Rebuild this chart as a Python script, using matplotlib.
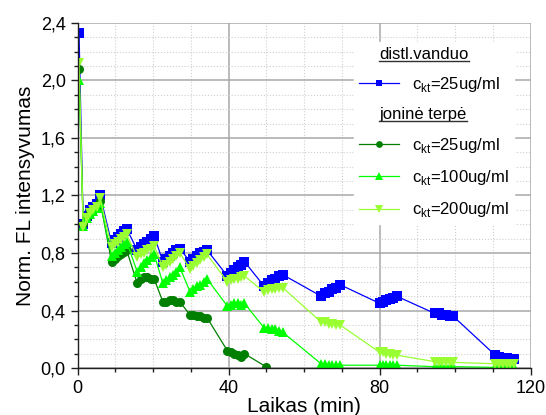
import matplotlib
matplotlib.use("Agg")
import matplotlib.pyplot as plt
from matplotlib.lines import Line2D
from matplotlib.ticker import MultipleLocator, FuncFormatter
from matplotlib.transforms import IdentityTransform

plt.rcParams['font.family'] = ['Liberation Sans', 'DejaVu Sans']
plt.rcParams['mathtext.fontset'] = 'custom'
plt.rcParams['mathtext.rm'] = 'Liberation Sans'

# time points (min): first reading, then measurement groups
laikas = [0.4,
          1.5, 2.4, 3.3, 4.2, 5.1, 6.0,
          9.0, 9.8, 10.6, 11.4, 12.2, 13.0,
          15.8, 16.7, 17.6, 18.5, 19.4, 20.3,
          22.6, 23.5, 24.4, 25.3, 26.2, 27.1,
          29.8, 30.7, 31.6, 32.5, 33.4, 34.3,
          39.7, 40.6, 41.5, 42.4, 43.3, 44.2,
          49.4, 50.4, 51.4, 52.4, 53.4, 54.3,
          64.5, 65.5, 66.5, 67.5, 68.5, 69.5,
          80.0, 80.9, 81.8, 82.7, 83.6, 84.5,
          94.6, 95.6, 96.6, 97.6, 98.6, 99.5,
          110.6, 111.6, 112.6, 113.6, 114.6, 115.5]

# distl. vanduo, c=25 ug/ml
vanduo_25 = [2.33,
             1.00, 1.06, 1.10, 1.12, 1.14, 1.20,
             0.87, 0.89, 0.91, 0.93, 0.95, 0.97,
             0.82, 0.84, 0.86, 0.88, 0.90, 0.92,
             0.74, 0.76, 0.78, 0.80, 0.82, 0.83,
             0.74, 0.76, 0.78, 0.80, 0.81, 0.82,
             0.64, 0.66, 0.68, 0.70, 0.72, 0.74,
             0.57, 0.59, 0.61, 0.62, 0.64, 0.65,
             0.50, 0.52, 0.53, 0.55, 0.56, 0.58,
             0.45, 0.46, 0.47, 0.48, 0.49, 0.50,
             0.38, 0.38, 0.37, 0.37, 0.36, 0.36,
             0.09, 0.08, 0.07, 0.07, 0.06, 0.06]

# jonine terpe, c=25 ug/ml (ends at 50 min)
laikas_j25 = laikas[:37] + [49.9]
jon_25 = [2.08,
          1.00, 1.05, 1.08, 1.10, 1.12, 1.16,
          0.74, 0.76, 0.78, 0.79, 0.81, 0.82,
          0.59, 0.62, 0.63, 0.63, 0.62, 0.62,
          0.46, 0.46, 0.47, 0.47, 0.46, 0.46,
          0.37, 0.37, 0.36, 0.36, 0.35, 0.35,
          0.12, 0.11, 0.10, 0.09, 0.08, 0.10,
          0.01]

# jonine terpe, c=100 ug/ml
jon_100 = [2.00,
           0.99, 1.04, 1.07, 1.09, 1.11, 1.15,
           0.78, 0.80, 0.82, 0.84, 0.86, 0.88,
           0.67, 0.70, 0.73, 0.75, 0.77, 0.79,
           0.59, 0.61, 0.63, 0.65, 0.67, 0.70,
           0.53, 0.55, 0.57, 0.58, 0.60, 0.62,
           0.43, 0.44, 0.45, 0.45, 0.44, 0.45,
           0.28, 0.28, 0.27, 0.27, 0.26, 0.25,
           0.03, 0.03, 0.02, 0.02, 0.02, 0.02,
           0.02, 0.02, 0.02, 0.02, 0.02, 0.02,
           0.01, 0.01, 0.01, 0.01, 0.01, 0.01,
           0.005, 0.005, 0.005, 0.005, 0.005, 0.005]

# jonine terpe, c=200 ug/ml
jon_200 = [2.12,
           0.98, 1.04, 1.08, 1.10, 1.12, 1.18,
           0.84, 0.86, 0.88, 0.90, 0.91, 0.93,
           0.77, 0.79, 0.80, 0.82, 0.83, 0.85,
           0.70, 0.72, 0.74, 0.76, 0.78, 0.80,
           0.69, 0.71, 0.73, 0.75, 0.77, 0.79,
           0.60, 0.61, 0.62, 0.62, 0.63, 0.64,
           0.53, 0.54, 0.55, 0.55, 0.56, 0.56,
           0.32, 0.32, 0.31, 0.31, 0.30, 0.30,
           0.11, 0.11, 0.10, 0.10, 0.09, 0.09,
           0.045, 0.045, 0.04, 0.04, 0.04, 0.04,
           0.03, 0.03, 0.03, 0.03, 0.03, 0.03]

fig = plt.figure(figsize=(5.46, 4.15), dpi=100)
ax = fig.add_axes([0.142, 0.113, 0.83, 0.832])

ms = 6.5
l1, = ax.plot(laikas, vanduo_25, color='#0000FF', marker='s', ms=ms, mew=0, lw=0.9)
l2, = ax.plot(laikas_j25, jon_25, color='#007F00', marker='o', ms=ms, mew=0, lw=0.9)
l3, = ax.plot(laikas, jon_100, color='#00FF00', marker='^', ms=ms + 1, mew=0, lw=0.9)
l4, = ax.plot(laikas, jon_200, color='#99FF33', marker='v', ms=ms + 1, mew=0, lw=0.9)

ax.set_xlim(0, 120)
ax.set_ylim(0, 2.4)
ax.xaxis.set_major_locator(MultipleLocator(40))
ax.xaxis.set_minor_locator(MultipleLocator(10))
ax.yaxis.set_major_locator(MultipleLocator(0.4))
ax.yaxis.set_minor_locator(MultipleLocator(0.1))
ax.yaxis.set_major_formatter(FuncFormatter(lambda v, p: f"{v:.1f}".replace('.', ',')))

ax.grid(True, which='major', color='#A8A8A8', lw=1.1, linestyle='-')
ax.grid(True, which='minor', color='#CFCFCF', lw=0.8, linestyle=':')
ax.set_axisbelow(True)
for s in ['top', 'right']:
    ax.spines[s].set_visible(False)
for s in ['left', 'bottom']:
    ax.spines[s].set_color('#202020')
    ax.spines[s].set_linewidth(1.0)
ax.tick_params(which='major', direction='out', length=5, width=1, labelsize=13, colors='#202020')
ax.tick_params(which='minor', direction='out', length=3, width=1, colors='#202020')
ax.tick_params(labelcolor='black')

ax.set_xlabel("Laikas (min)", fontsize=15, labelpad=0)
ax.set_ylabel("Norm. FL intensyvumas", fontsize=15, labelpad=4)

blank = Line2D([], [], linestyle='none')
handles = [blank, l1, blank, l2, l3, l4]
labels = ["distl.vanduo",
          r"c$_{\mathregular{kt}}$=25ug/ml",
          "joninė terpė",
          r"c$_{\mathregular{kt}}$=25ug/ml",
          r"c$_{\mathregular{kt}}$=100ug/ml",
          r"c$_{\mathregular{kt}}$=200ug/ml"]
leg = ax.legend(handles, labels, loc='upper left', bbox_to_anchor=(0.61, 0.945),
                fontsize=12, frameon=True, fancybox=False, framealpha=1,
                edgecolor='white', handlelength=2.4, handletextpad=0.8,
                labelspacing=0.8, borderpad=0.3, borderaxespad=0, markerscale=0.75)

headers = [leg.get_texts()[0], leg.get_texts()[2]]
for t in headers:
    t.set_x(-33)

fig.canvas.draw()
for t in headers:
    bb = t.get_window_extent()
    fig.add_artist(Line2D([bb.x0, bb.x1], [bb.y0 + 1, bb.y0 + 1], color='#303030',
                          lw=1, transform=IdentityTransform()))

fig.savefig("out.png", dpi=100)
